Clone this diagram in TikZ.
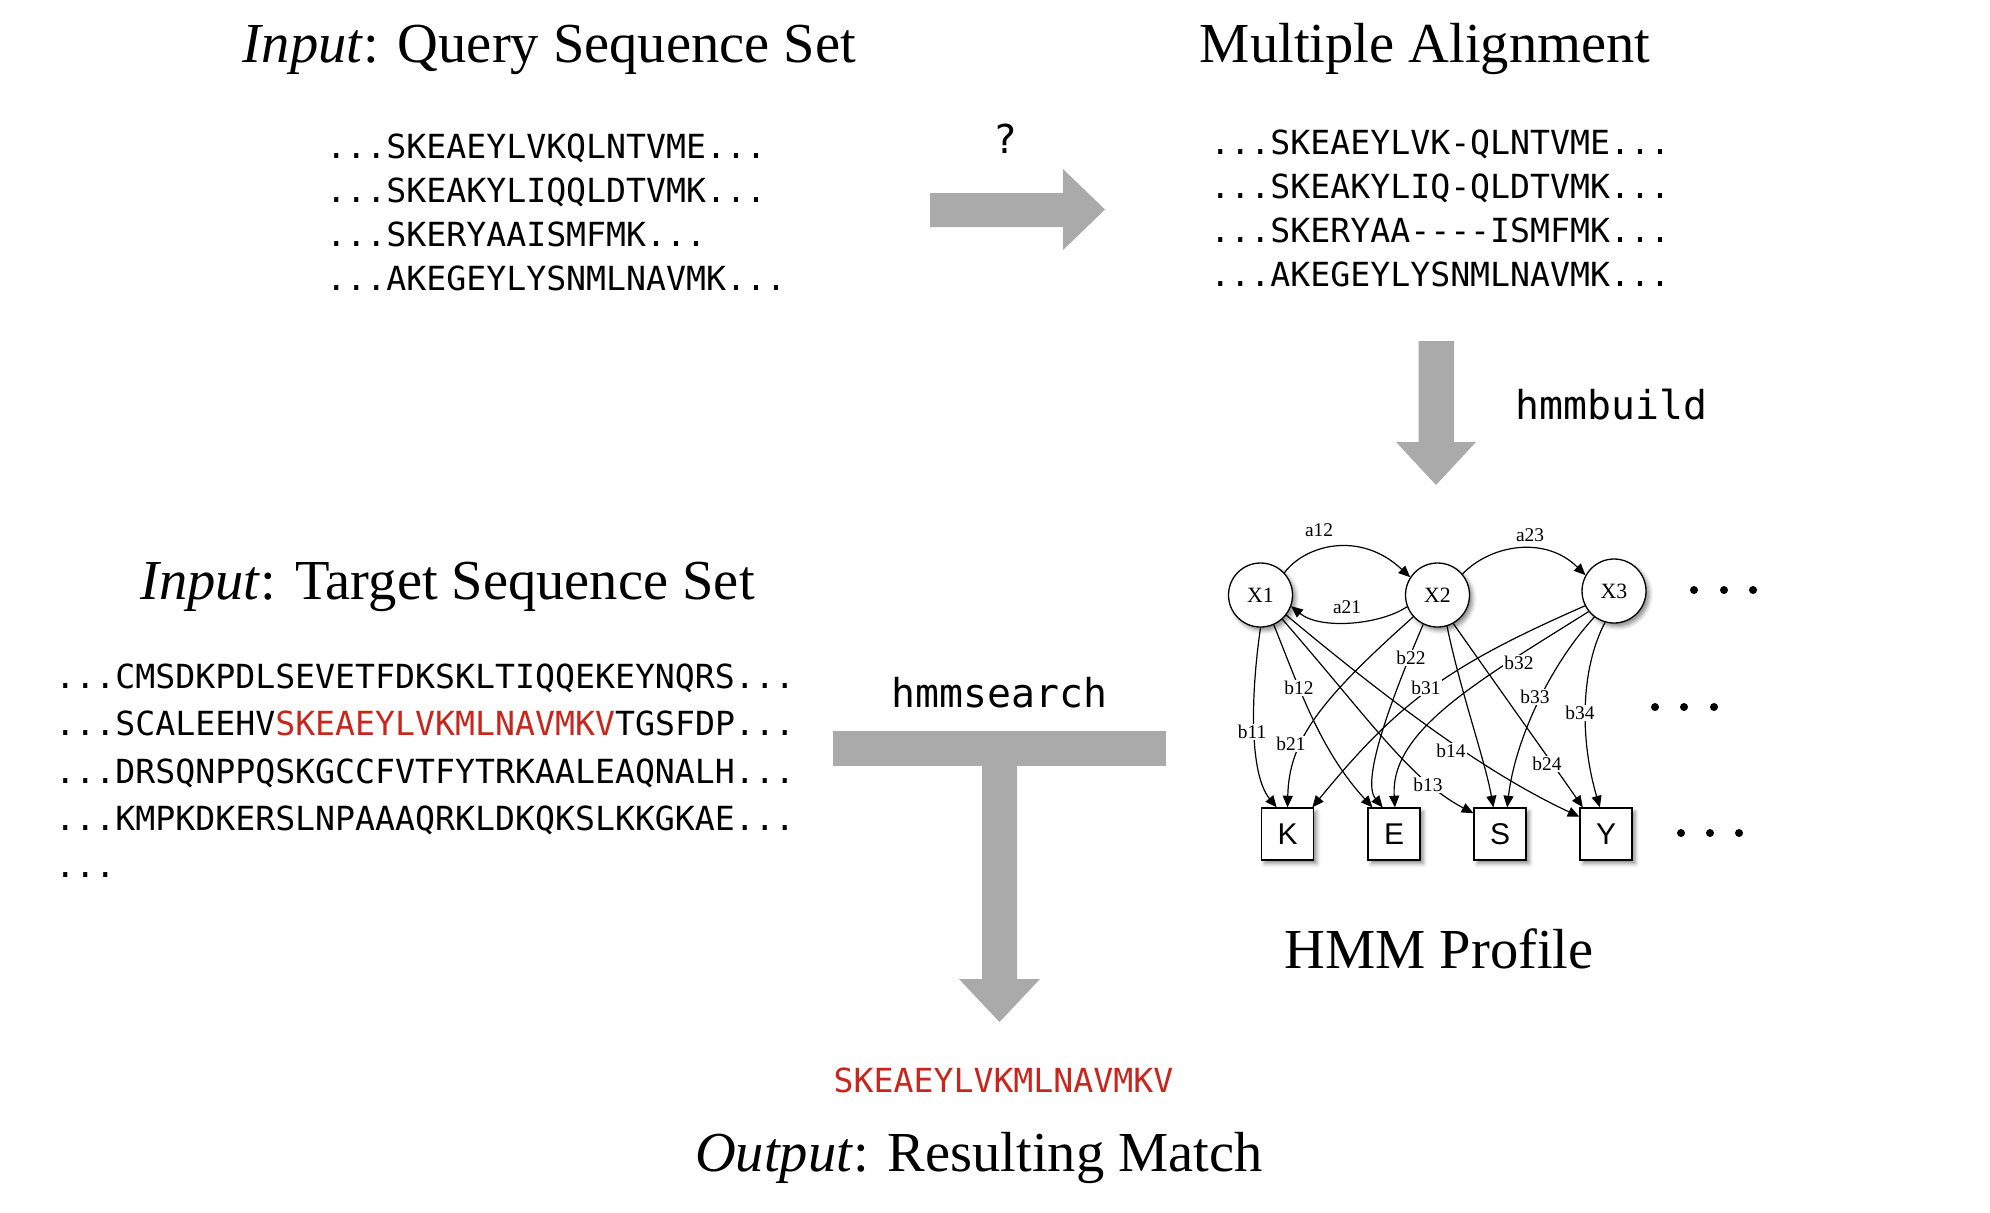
\documentclass[tikz,border=0pt]{standalone}
\usepackage{fontspec}
\setmainfont{Liberation Serif}
\newfontfamily\seqfont{DejaVu Sans Mono}
\newfontfamily\boxfont{Liberation Sans}
\usetikzlibrary{arrows.meta,shadows.blur}
\definecolor{arrowgray}{RGB}{170,170,170}
\definecolor{hitred}{RGB}{200,38,28}
\begin{document}
\begin{tikzpicture}[x=0.5pt,y=-0.5pt,
  title/.style={anchor=base,inner sep=0pt,font=\fontsize{28.25pt}{30pt}\selectfont},
  seqline/.style={anchor=base west,inner sep=0pt,font=\seqfont\fontsize{16.6pt}{18pt}\selectfont},
  cmd/.style={anchor=base,inner sep=0pt,font=\seqfont\fontsize{19.9pt}{22pt}\selectfont},
  state/.style={circle,draw,line width=0.65pt,fill=white,minimum size=32pt,inner sep=0pt,
    font=\fontsize{10.9pt}{12pt}\selectfont,
    blur shadow={shadow xshift=1.6pt,shadow yshift=-1.8pt,shadow blur radius=2pt,shadow opacity=45}},
  obs/.style={rectangle,draw,line width=0.65pt,fill=white,minimum size=26pt,inner sep=0pt,
    font=\boxfont\fontsize{15pt}{16pt}\selectfont,
    blur shadow={shadow xshift=1.6pt,shadow yshift=-1.8pt,shadow blur radius=2pt,shadow opacity=45}},
  trans/.style={line width=0.6pt,-{Triangle[length=5.8pt,width=5pt]}},
  lab/.style={inner sep=0.6pt,fill=white,font=\fontsize{9.7pt}{10pt}\selectfont},
  bigarrow/.style={fill=arrowgray},
  hmmdot/.style={fill=black}
]
\useasboundingbox (0,0) rectangle (1990,1212);

% ---------- titles ----------
\node[title] (tquery) at (549.5,62) {\textit{Input}: Query Sequence Set};
\node[title] (talign) at (1425,62) {Multiple Alignment};
\node[title] (ttarget) at (447.5,599) {\textit{Input}: Target Sequence Set};
\node[title] (thmm) at (1439,968.5) {HMM Profile};
\node[title] (tout) at (979,1171) {\textit{Output}: Resulting Match};

% ---------- query sequences ----------
\node[seqline] (q1) at (326,158.5) {...SKEAEYLVKQLNTVME...};
\node[seqline] (q2) at (326,202.5) {...SKEAKYLIQQLDTVMK...};
\node[seqline] (q3) at (326,246.5) {...SKERYAAISMFMK...};
\node[seqline] (q4) at (326,290.5) {...AKEGEYLYSNMLNAVMK...};

% ---------- alignment ----------
\node[seqline] (m1) at (1210,154) {...SKEAEYLVK-QLNTVME...};
\node[seqline] (m2) at (1210,198) {...SKEAKYLIQ-QLDTVMK...};
\node[seqline] (m3) at (1210,242.5) {...SKERYAA----ISMFMK...};
\node[seqline] (m4) at (1210,286.5) {...AKEGEYLYSNMLNAVMK...};

% ---------- target sequences ----------
\node[seqline] (s1) at (55,688) {...CMSDKPDLSEVETFDKSKLTIQQEKEYNQRS...};
\node[seqline] (s2) at (55,735) {...SCALEEHV\textcolor{hitred}{SKEAEYLVKMLNAVMKV}TGSFDP...};
\node[seqline] (s3) at (55,783) {...DRSQNPPQSKGCCFVTFYTRKAALEAQNALH...};
\node[seqline] (s4) at (55,830) {...KMPKDKERSLNPAAAQRKLDKQKSLKKGKAE...};
\node[seqline] (s5) at (55,877.5) {...};

% ---------- result ----------
\node[seqline,anchor=base,text=hitred] (hit) at (1003.5,1092.5) {SKEAEYLVKMLNAVMKV};

% ---------- commands ----------
\node[cmd] (qmark) at (1005.5,153) {?};
\node[cmd] (hmmbuild) at (1611.5,419) {hmmbuild};
\node[cmd] (hmmsearch) at (999.5,707) {hmmsearch};

% ---------- big gray arrows ----------
\fill[bigarrow] (930,193) -- (1063,193) -- (1063,169) -- (1105,209.5) -- (1063,250)
  -- (1063,227) -- (930,227) -- cycle;
\fill[bigarrow] (1418.5,341) -- (1454,341) -- (1454,442) -- (1476,442) -- (1436,485)
  -- (1396,442) -- (1418.5,442) -- cycle;
\fill[bigarrow] (833,731) rectangle (1166,766);
\fill[bigarrow] (982,765) -- (1017,765) -- (1017,979) -- (1040,979) -- (999.5,1022)
  -- (959,979) -- (982,979) -- cycle;

% ---------- HMM ----------
\node[state] (X1) at (1260.5,595) {X1};
\node[state] (X2) at (1437.5,595) {X2};
\node[state] (X3) at (1614,591) {X3};
\node[obs] (K) at (1287.5,834) {K};
\node[obs] (E) at (1394,834) {E};
\node[obs] (S) at (1500,834) {S};
\node[obs] (Y) at (1606,834) {Y};

% transitions
\draw[trans] (X1.43) .. controls (1305,545) and (1360,530) .. (X2.147);
\draw[trans] (X2.201) .. controls (1380,625) and (1320,630) .. (X1.340);
\draw[trans] (X2.40) .. controls (1490,545) and (1545,535) .. (X3.151);

% emissions
\draw[trans] (X1.270) .. controls (1250,700) and (1250,775) .. (K.112);
\draw[trans] (X2.222) .. controls (1320,700) and (1289,740) .. (K.90);
\draw[trans] (X3.207) .. controls (1450,665) and (1400,700) .. (K.47);
\draw[trans] (X1.294) .. controls (1300,690) and (1320,750) .. (E.129);
\draw[trans] (X2.244) .. controls (1395,690) and (1360,780) .. (E.113);
\draw[trans] (X3.219) .. controls (1480,680) and (1390,730) .. (E.88);
\draw[trans] (X1.312) .. controls (1370,720) and (1410,780) .. (S.142);
\draw[trans] (X2.287) .. controls (1460,690) and (1485,760) .. (S.104);
\draw[trans] (X3.233) .. controls (1550,665) and (1515,740) .. (S.75);
\draw[trans] (X1.322) .. controls (1400,710) and (1490,775) .. (Y.147);
\draw[trans] (X2.299) .. controls (1500,690) and (1550,760) .. (Y.131);
\draw[trans] (X3.254) .. controls (1580,670) and (1580,740) .. (Y.103);

% labels
\node[lab] (la12) at (1319,530) {a12};
\node[lab] (la21) at (1347,607) {a21};
\node[lab] (la23) at (1530,535) {a23};
\node[lab] (lb11) at (1252,732) {b11};
\node[lab] (lb12) at (1299,688) {b12};
\node[lab] (lb21) at (1291,744) {b21};
\node[lab] (lb22) at (1411,658) {b22};
\node[lab] (lb31) at (1426,688) {b31};
\node[lab] (lb32) at (1519,663) {b32};
\node[lab] (lb33) at (1535,697) {b33};
\node[lab] (lb34) at (1580,713) {b34};
\node[lab] (lb14) at (1451,751) {b14};
\node[lab] (lb24) at (1547,764) {b24};
\node[lab] (lb13) at (1428,785) {b13};

% ellipsis dots
\foreach \x in {1694,1724,1753} \fill[hmmdot] (\x,590) circle (4);
\foreach \x in {1655,1684,1714} \fill[hmmdot] (\x,707) circle (4);
\foreach \x in {1681,1710,1739} \fill[hmmdot] (\x,833) circle (4);
\end{tikzpicture}
\end{document}
